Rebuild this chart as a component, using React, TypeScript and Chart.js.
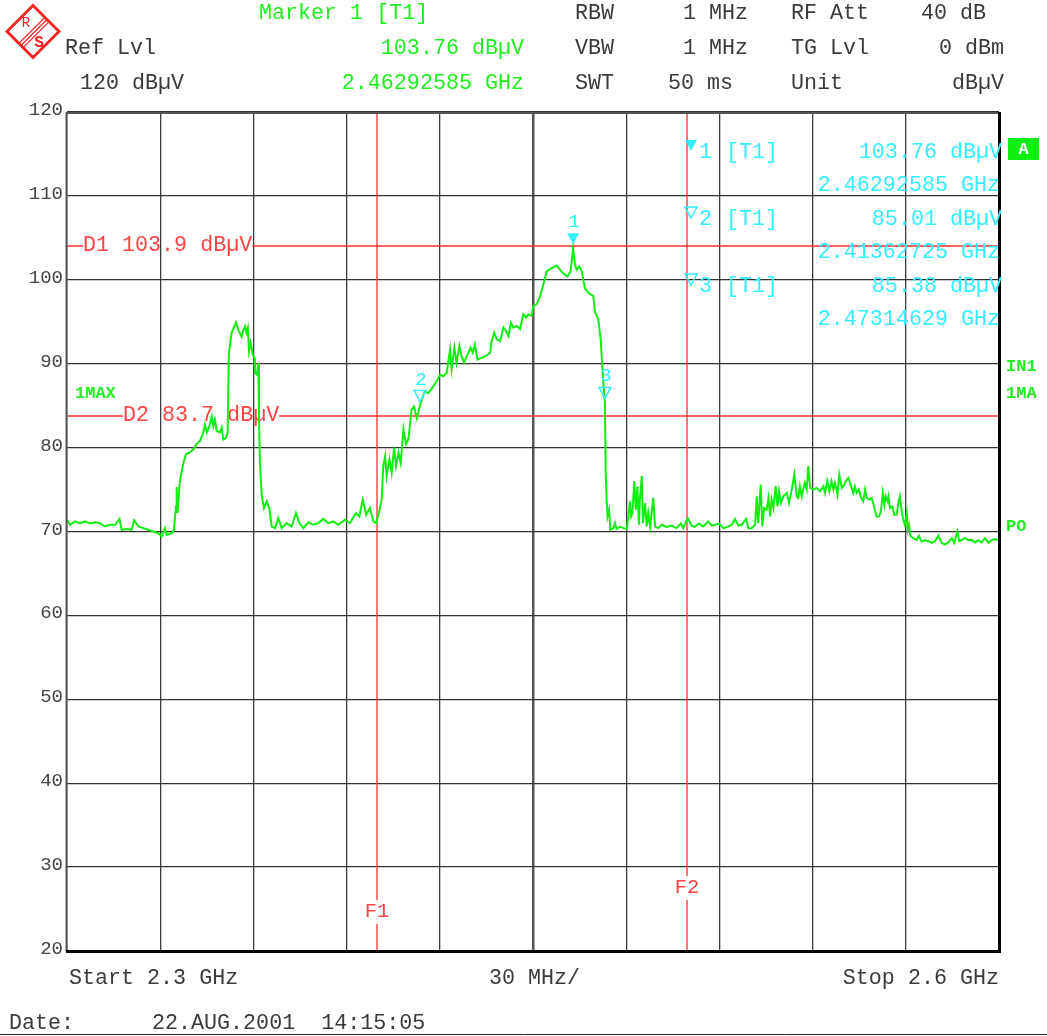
import React, { useEffect, useRef } from 'react';
import { Chart, registerables } from 'chart.js';

Chart.register(...registerables);

// ---------- trace data (frequency in MHz, level in dBµV) ----------
const freqMHz = [
  2300.0, 2301.0, 2302.6, 2304.2, 2305.8, 2307.4, 2309.0, 2310.6, 2312.2, 2313.8,
  2315.5, 2316.9, 2317.6, 2319.2, 2320.8, 2321.6, 2323.0, 2324.6, 2326.2, 2327.8,
  2329.4, 2330.5, 2331.5, 2332.1, 2333.7, 2334.4, 2335.1, 2335.3, 2335.6, 2336.2,
  2336.6, 2337.5, 2338.3, 2339.6, 2340.7, 2341.7, 2342.8, 2343.9, 2344.4, 2345.0,
  2345.8, 2346.6, 2347.1, 2347.6, 2348.2, 2349.3, 2349.8, 2350.3, 2351.2, 2351.7,
  2352.1, 2353.0, 2354.4, 2355.1, 2356.2, 2356.8, 2357.3, 2357.8, 2358.2, 2358.6,
  2359.1, 2359.8, 2360.3, 2360.5, 2361.1, 2361.6, 2361.8, 2362.1, 2362.7, 2363.4,
  2364.3, 2365.1, 2365.9, 2367.0, 2368.0, 2369.1, 2370.7, 2372.3, 2373.7, 2374.8,
  2376.1, 2377.7, 2379.3, 2380.9, 2382.5, 2384.1, 2385.7, 2387.3,
  2389.5, 2391.1, 2393.0, 2394.1, 2395.2, 2396.3, 2397.5, 2398.6, 2399.5, 2400.5,
  2401.3, 2401.8, 2402.4, 2402.9, 2403.8, 2404.5, 2405.3, 2405.9, 2406.7, 2407.4,
  2408.3, 2409.1, 2409.9, 2410.9, 2411.7, 2412.6, 2413.63, 2414.2, 2415.2, 2416.3,
  2417.9, 2419.0, 2420.1, 2421.1, 2422.2, 2423.3, 2423.8, 2424.7, 2425.4, 2426.3,
  2427.0, 2427.8, 2428.7, 2429.9, 2430.6, 2431.3, 2432.1, 2433.5, 2435.1, 2436.2,
  2436.7, 2437.5, 2438.3, 2439.4, 2440.5, 2441.3, 2442.1, 2442.9, 2443.7, 2444.8,
  2445.8, 2446.9, 2447.8, 2448.5, 2449.6, 2450.1, 2451.2, 2452.3, 2453.3, 2454.4,
  2456.0, 2457.6, 2459.6, 2461.1, 2462.1, 2462.7, 2462.93, 2463.5, 2464.1, 2464.9,
  2465.7, 2466.7, 2467.8, 2469.4, 2470.0, 2471.0, 2471.8, 2472.3, 2472.8, 2473.15,
  2473.4, 2473.7, 2474.0, 2474.5, 2474.9, 2475.9, 2476.4, 2476.9, 2478.0, 2479.1,
  2480.2, 2480.7, 2481.2, 2481.6, 2482.0, 2482.6, 2483.1, 2483.6, 2484.1, 2484.4,
  2485.0, 2485.4, 2486.1, 2486.6, 2487.1, 2487.7, 2488.7, 2489.3, 2490.3, 2491.4,
  2493.0, 2494.6, 2496.2, 2497.6, 2498.4, 2499.8, 2501.1, 2502.1, 2503.4, 2504.8,
  2506.4, 2507.5, 2508.6, 2509.9, 2511.3, 2512.9, 2514.0, 2515.0, 2516.1, 2517.2,
  2518.6, 2519.3, 2520.4, 2521.5, 2522.0, 2522.5, 2523.3, 2523.8, 2524.4, 2525.2,
  2525.8, 2526.3, 2526.8, 2527.4, 2528.1, 2528.7, 2529.2, 2529.8, 2530.6, 2531.7,
  2532.4, 2533.3, 2534.1,
  2534.9, 2535.4, 2535.9, 2536.5, 2537.0, 2537.5, 2538.1, 2538.6, 2539.2, 2540.2,
  2541.3, 2542.4, 2543.5, 2544.0, 2544.7, 2545.4, 2546.1, 2546.7, 2547.2, 2548.0,
  2548.6, 2549.4, 2550.2, 2551.0, 2551.5, 2552.4, 2553.1, 2553.6, 2554.2, 2554.9,
  2555.6, 2556.3, 2556.9, 2557.4, 2558.2, 2559.0, 2559.9, 2560.6, 2561.4, 2562.0,
  2562.6, 2563.1, 2563.5, 2564.1, 2564.4, 2564.9, 2565.7, 2566.3, 2567.1, 2567.6,
  2568.1, 2568.7, 2569.2, 2569.7, 2570.3, 2570.6, 2571.0, 2571.5, 2572.4, 2573.5,
  2574.2, 2575.1, 2576.2, 2577.3, 2578.3, 2579.4, 2580.5, 2581.5, 2582.6, 2583.7,
  2584.8, 2585.6, 2586.6, 2587.2, 2588.0, 2589.1, 2590.1, 2591.2, 2592.3, 2593.3,
  2594.4, 2595.5, 2596.6, 2597.6, 2598.7, 2599.8,
];

const levelDbuV = [
  71.4, 70.8, 71.2, 71.0, 71.2, 70.95, 71.1, 71.0, 70.6, 70.8,
  70.8, 71.5, 70.2, 70.3, 70.2, 71.35, 70.6, 70.4, 70.2, 70.0,
  69.8, 69.4, 70.4, 69.6, 69.8, 70.2, 73.0, 75.3, 72.2, 75.4,
  76.6, 78.2, 79.2, 79.45, 79.8, 80.4, 80.8, 81.8, 82.75, 81.8,
  82.55, 83.7, 82.55, 83.35, 81.96, 81.84, 82.35, 80.96, 81.16, 81.76,
  91.3, 93.7, 94.95, 94.07, 93.2, 94.07, 94.47, 93.68, 94.27, 91.49,
  92.49, 91.09, 90.7, 88.9, 88.7, 90.1, 83.7, 78.2, 74.2, 72.8,
  73.6, 72.8, 70.6, 70.4, 71.6, 70.4, 71.0, 70.6, 72.2, 71.0,
  70.4, 71.1, 70.8, 71.0, 71.5, 71.0, 71.2, 70.8,
  71.4, 71.0, 72.2, 71.8, 73.8, 72.0, 72.8, 71.2, 71.0, 72.4,
  73.8, 77.8, 79.0, 76.6, 78.6, 77.0, 80.0, 77.8, 79.4, 78.2,
  82.2, 80.4, 81.0, 84.5, 84.9, 83.5, 85.01, 85.7, 86.7, 86.5,
  87.3, 87.9, 88.7, 88.5, 88.9, 91.7, 89.3, 91.9, 90.1, 92.1,
  90.9, 90.1, 90.9, 91.9, 91.3, 92.3, 90.5, 90.7, 91.0, 91.3,
  92.7, 93.7, 92.9, 92.7, 94.3, 93.9, 93.3, 94.9, 94.3, 94.5,
  94.1, 95.9, 95.5, 95.9, 95.7, 96.9, 97.1, 98.05, 99.4, 101.0,
  101.4, 101.7, 100.8, 100.4, 101.0, 103.0, 103.76, 101.8, 101.2, 101.6,
  101.0, 99.0, 98.45, 98.05, 96.1, 95.3, 92.9, 89.7, 87.0, 85.38,
  77.0, 73.8, 71.8, 72.6, 70.2, 70.4, 71.0, 70.3, 70.55, 70.4,
  70.3, 71.8, 73.6, 71.8, 72.2, 76.0, 72.6, 75.4, 70.8, 73.8,
  76.6, 71.0, 73.4, 70.6, 72.2, 70.55, 74.0, 70.6, 70.4, 70.8,
  70.55, 70.7, 70.4, 70.95, 70.4, 71.6, 70.7, 70.55, 70.95, 70.6,
  71.2, 70.7, 70.8, 70.95, 70.4, 70.6, 70.8, 71.5, 70.7, 70.8,
  71.5, 70.4, 70.4, 70.8, 74.2, 71.0, 75.6, 70.6, 72.8, 72.6,
  74.0, 71.8, 73.8, 72.8, 75.4, 73.0, 74.8, 73.4, 74.2, 74.6,
  73.4, 75.0, 76.8,
  74.2, 74.0, 75.4, 74.2, 75.0, 75.8, 75.0, 77.8, 75.2, 75.0,
  75.2, 74.8, 75.4, 74.6, 76.0, 74.8, 76.0, 75.0, 75.8, 74.4,
  76.8, 75.2, 75.6, 76.2, 76.4, 75.4, 74.6, 75.4, 74.6, 75.0,
  74.0, 73.6, 75.0, 74.0, 73.8, 74.0, 72.8, 71.8, 71.8, 72.4,
  74.6, 73.2, 74.2, 73.6, 74.2, 72.8, 73.0, 72.0, 72.0, 73.4,
  74.2, 72.4, 71.4, 70.8, 72.2, 70.2, 70.8, 69.5, 69.2, 69.0,
  69.5, 68.8, 68.96, 68.84, 68.65, 68.84, 69.5, 68.65, 68.45, 68.7,
  69.2, 68.65, 70.0, 68.84, 69.0, 69.2, 68.96, 69.0, 68.7, 68.96,
  68.7, 69.2, 68.65, 68.96, 69.1, 68.96,
];

// ---------- axis settings ----------
const startFreqMHz = 2300;
const stopFreqMHz = 2600;
const spanPerDivMHz = 30;
const refLevelDbuV = 120;
const bottomLevelDbuV = 20;
const levelPerDivDb = 10;

// ---------- display / frequency lines ----------
const displayLineNames = ['D1', 'D2'];
const displayLineLevels = [103.9, 83.7];
const freqLineNames = ['F1', 'F2'];
const freqLineMHz = [2400, 2500];

// ---------- markers ----------
const markerIds = [1, 2, 3];
const markerFreqGHz = [2.46292585, 2.41362725, 2.47314629];
const markerLevels = [103.76, 85.01, 85.38];

// ---------- header texts ----------
const settingNames1 = ['RBW', 'VBW', 'SWT'];
const settingValues1 = ['1 MHz', '1 MHz', '50 ms'];
const settingNames2 = ['RF Att', 'TG Lvl', 'Unit'];
const settingValues2 = ['40 dB', '0 dBm', 'dBµV'];
const dateText = '22.AUG.2001  14:15:05';

const MONO = '"Liberation Mono", "DejaVu Sans Mono", monospace';
const FS = 21.7;
const GREEN = '#22ee22';
const TRACE = '#11ee11';
const CYAN = '#33eeff';
const RED = '#ff4444';
const DARK = '#3a3a3a';

function fmtLevel(v: number) {
  return v.toFixed(2) + ' dBµV';
}
function fmtFreq(v: number) {
  return v.toFixed(8) + ' GHz';
}

const overlayPlugin = {
  id: 'analyzerOverlay',
  beforeDatasetsDraw(chart: any) {
    const { ctx, chartArea: a, scales } = chart;
    const x = scales.x;
    const y = scales.y;
    ctx.save();
    ctx.font = `${FS}px ${MONO}`;
    ctx.textBaseline = 'middle';
    ctx.fillStyle = RED;
    ctx.strokeStyle = '#ff3030';
    ctx.lineWidth = 1.3;
    const labelOffsets = [16, 56];
    displayLineNames.forEach((name, i) => {
      const py = Math.round(y.getPixelForValue(displayLineLevels[i])) - 1;
      const txt = `${name} ${displayLineLevels[i].toFixed(1)} dBµV`;
      const lx = a.left + labelOffsets[i];
      const w = ctx.measureText(txt).width;
      ctx.beginPath();
      ctx.moveTo(a.left, py);
      ctx.lineTo(lx, py);
      ctx.moveTo(lx + w, py);
      ctx.lineTo(a.right, py);
      ctx.stroke();
      ctx.textAlign = 'left';
      ctx.fillText(txt, lx, py - 0.5);
    });
    const labelYs = [912, 888];
    ctx.font = `20.5px ${MONO}`;
    freqLineNames.forEach((name, i) => {
      const px = Math.round(x.getPixelForValue(freqLineMHz[i])) - 1;
      const ly = labelYs[i];
      ctx.beginPath();
      ctx.moveTo(px, a.top);
      ctx.lineTo(px, ly - 12);
      ctx.moveTo(px, ly + 12);
      ctx.lineTo(px, a.bottom);
      ctx.stroke();
      ctx.textAlign = 'center';
      ctx.fillText(name, px, ly);
    });
    ctx.restore();
  },
  afterDraw(chart: any) {
    const { ctx, chartArea: a, scales } = chart;
    const x = scales.x;
    const y = scales.y;
    ctx.save();

    // frame
    ctx.strokeStyle = '#555';
    ctx.lineWidth = 2;
    ctx.beginPath();
    ctx.moveTo(a.left - 1, a.top + 1);
    ctx.lineTo(a.right, a.top + 1);
    ctx.moveTo(a.left - 0.5, a.top);
    ctx.lineTo(a.left - 0.5, a.bottom);
    ctx.stroke();
    ctx.strokeStyle = '#000';
    ctx.lineWidth = 3;
    ctx.beginPath();
    ctx.moveTo(a.right + 0.5, a.top);
    ctx.lineTo(a.right + 0.5, a.bottom + 2);
    ctx.moveTo(a.left - 1, a.bottom + 0.5);
    ctx.lineTo(a.right + 2, a.bottom + 0.5);
    ctx.stroke();

    // trace markers
    markerIds.forEach((id, i) => {
      const px = x.getPixelForValue(markerFreqGHz[i] * 1000);
      const py = y.getPixelForValue(markerLevels[i]);
      const tip = py - 4;
      ctx.beginPath();
      ctx.moveTo(px - 6, tip - 11);
      ctx.lineTo(px + 6, tip - 11);
      ctx.lineTo(px, tip);
      ctx.closePath();
      if (i === 0) {
        ctx.fillStyle = CYAN;
        ctx.fill();
      } else {
        ctx.strokeStyle = CYAN;
        ctx.lineWidth = 1.5;
        ctx.stroke();
      }
      ctx.fillStyle = CYAN;
      ctx.font = `19px ${MONO}`;
      ctx.textAlign = 'center';
      ctx.textBaseline = 'middle';
      ctx.fillText(String(id), px + 1, tip - 22);
    });

    // marker info block
    ctx.font = `${FS}px ${MONO}`;
    ctx.textBaseline = 'middle';
    markerIds.forEach((id, i) => {
      const rowY = 152 + i * 67;
      const tx = 691;
      ctx.beginPath();
      ctx.moveTo(tx - 6, rowY - 12);
      ctx.lineTo(tx + 6, rowY - 12);
      ctx.lineTo(tx, rowY - 1);
      ctx.closePath();
      if (i === 0) {
        ctx.fillStyle = CYAN;
        ctx.fill();
      } else {
        ctx.strokeStyle = CYAN;
        ctx.lineWidth = 1.5;
        ctx.stroke();
      }
      ctx.fillStyle = CYAN;
      ctx.textAlign = 'left';
      ctx.fillText(String(id), 699, rowY);
      ctx.fillText('[T1]', 726, rowY);
      ctx.textAlign = 'right';
      ctx.fillText(fmtLevel(markerLevels[i]), 1002, rowY);
      ctx.fillText(fmtFreq(markerFreqGHz[i]), 1000, rowY + 33.5);
    });

    // header
    const rows = [13.5, 48, 83];
    ctx.textAlign = 'left';
    ctx.fillStyle = GREEN;
    ctx.fillText(`Marker ${markerIds[0]} [T1]`, 259, rows[0]);
    ctx.textAlign = 'right';
    ctx.fillText(fmtLevel(markerLevels[0]), 524, rows[1]);
    ctx.fillText(fmtFreq(markerFreqGHz[0]), 524, rows[2]);
    ctx.fillStyle = DARK;
    ctx.textAlign = 'left';
    ctx.fillText('Ref Lvl', 65, rows[1]);
    ctx.fillText(`${refLevelDbuV} dBµV`, 80, rows[2]);
    const valX = [683, 683, 668];
    settingNames1.forEach((n, i) => {
      ctx.textAlign = 'left';
      ctx.fillText(n, 575, rows[i]);
      ctx.fillText(settingValues1[i], valX[i], rows[i]);
      ctx.fillText(settingNames2[i], 791, rows[i]);
    });
    ctx.fillText(settingValues2[0], 921, rows[0]);
    ctx.textAlign = 'right';
    ctx.fillText(settingValues2[1], 1004, rows[1]);
    ctx.fillText(settingValues2[2], 1004, rows[2]);

    // bottom
    ctx.textAlign = 'left';
    ctx.fillText(`Start ${(startFreqMHz / 1000).toFixed(1)} GHz`, 69, 978);
    ctx.fillText(`${spanPerDivMHz} MHz/`, 489, 978);
    ctx.textAlign = 'right';
    ctx.fillText(`Stop ${(stopFreqMHz / 1000).toFixed(1)} GHz`, 999, 978);
    ctx.textAlign = 'left';
    ctx.fillText('Date:', 9, 1023);
    ctx.fillText(dateText, 152, 1023);
    ctx.strokeStyle = '#222';
    ctx.lineWidth = 1;
    ctx.beginPath();
    ctx.moveTo(0, 1034.5);
    ctx.lineTo(1047, 1034.5);
    ctx.stroke();

    // right side labels
    ctx.fillStyle = '#11ee11';
    ctx.fillRect(1008, 138, 31, 22);
    ctx.fillStyle = '#fff';
    ctx.font = `bold 17px ${MONO}`;
    ctx.textAlign = 'center';
    ctx.fillText('A', 1023.5, 149.5);
    ctx.fillStyle = GREEN;
    ctx.textAlign = 'left';
    ctx.fillText('IN1', 1006, 367);
    ctx.fillText('1MA', 1006, 394);
    ctx.fillText('PO', 1006, 527);
    ctx.fillText('1MAX', 75, 394);

    // R&S logo
    const cx = 33, cy = 31.5, r = 26;
    ctx.strokeStyle = '#ff2020';
    ctx.lineWidth = 2.8;
    ctx.beginPath();
    ctx.moveTo(cx, cy - r);
    ctx.lineTo(cx + r, cy);
    ctx.lineTo(cx, cy + r);
    ctx.lineTo(cx - r, cy);
    ctx.closePath();
    ctx.stroke();
    ctx.lineWidth = 1.2;
    [-3, 0, 3].forEach((d) => {
      const o = d / Math.SQRT2;
      ctx.beginPath();
      ctx.moveTo(cx + r / 2 + o + 1, cy - r / 2 + o + 1);
      ctx.lineTo(cx - r / 2 + o + 1, cy + r / 2 + o + 1);
      ctx.stroke();
    });
    ctx.fillStyle = '#ff2020';
    ctx.font = `14px ${MONO}`;
    ctx.textAlign = 'center';
    ctx.fillText('R', cx - 7, cy - 8);
    ctx.font = `bold 16px ${MONO}`;
    ctx.fillText('S', cx + 6, cy + 11);

    ctx.restore();
  },
};

export default function App() {
  const canvasRef = useRef<HTMLCanvasElement | null>(null);

  useEffect(() => {
    const canvas = canvasRef.current;
    if (!canvas) return;
    const points = freqMHz.map((f, i) => ({ x: f, y: levelDbuV[i] }));
    const chart = new Chart(canvas, {
      type: 'line',
      data: {
        datasets: [
          {
            label: '1MAX',
            data: points,
            borderColor: TRACE,
            borderWidth: 2,
            pointRadius: 0,
            tension: 0,
            fill: false,
          },
        ],
      },
      options: {
        animation: false,
        responsive: false,
        devicePixelRatio: 1,
        parsing: false,
        normalized: true,
        layout: { padding: { left: 0, right: 48, top: 112, bottom: 0 } },
        plugins: {
          legend: { display: false },
          tooltip: { enabled: false },
          title: { display: false },
        },
        scales: {
          x: {
            type: 'linear',
            min: startFreqMHz,
            max: stopFreqMHz,
            ticks: { display: false, stepSize: spanPerDivMHz },
            border: { display: false },
            grid: {
              drawTicks: false,
              color: (c: any) => (c.tick && c.tick.value === 2450 ? '#555' : '#3c3c3c'),
              lineWidth: (c: any) => (c.tick && c.tick.value === 2450 ? 2.5 : 1.3),
            },
            afterFit: (scale: any) => {
              scale.height = 85;
            },
          },
          y: {
            type: 'linear',
            min: bottomLevelDbuV,
            max: refLevelDbuV,
            ticks: {
              stepSize: levelPerDivDb,
              padding: 4,
              color: '#444',
              labelOffset: -2,
              font: { family: MONO, size: 19 },
            },
            border: { display: false },
            grid: { drawTicks: false, color: '#333', lineWidth: 1.3 },
            afterFit: (scale: any) => {
              scale.width = 67;
            },
          },
        },
      },
      plugins: [overlayPlugin],
    });
    return () => chart.destroy();
  }, []);

  return (
    <div style={{ position: 'absolute', left: 0, top: 0, width: 1047, height: 1036, background: '#fff' }}>
      <canvas ref={canvasRef} width={1047} height={1036} style={{ display: 'block' }} />
    </div>
  );
}
